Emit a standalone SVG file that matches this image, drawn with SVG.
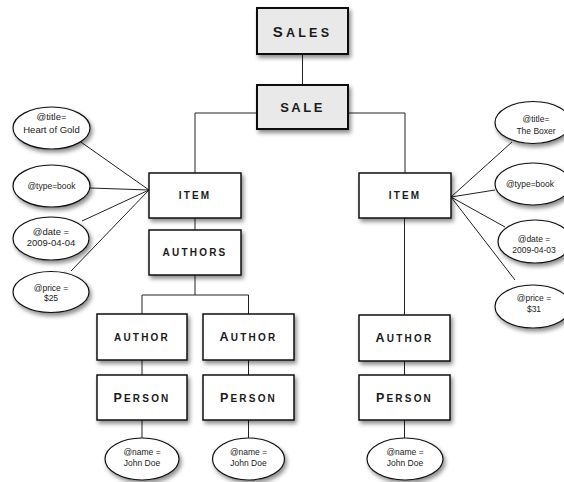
<svg xmlns="http://www.w3.org/2000/svg" width="564" height="482" viewBox="0 0 564 482">
<defs>
<filter id="sh" x="-20%" y="-20%" width="150%" height="160%">
<feDropShadow dx="2" dy="3" stdDeviation="2" flood-color="#000" flood-opacity="0.45"/>
</filter>
<style>
.box{fill:#fff;stroke:#111;stroke-width:1.5;filter:url(#sh)}
.gbox{fill:#e9e9e9;stroke:#111;stroke-width:2;filter:url(#sh)}
.ell{fill:#fff;stroke:#111;stroke-width:1.2;filter:url(#sh)}
.lbl{font-family:"Liberation Sans",Arial,sans-serif;font-weight:bold;font-size:10px;letter-spacing:2.2px;fill:#1a1a1a;text-anchor:middle}
.big{font-size:12.5px}
.at{font-family:"Liberation Sans",Arial,sans-serif;font-size:8.5px;fill:#222;text-anchor:middle}
.at2{font-size:9.5px}
.con{stroke:#222;stroke-width:1;fill:none}
</style>
</defs>
<g id="connectors">
<line class="con" x1="302.5" y1="54" x2="302.5" y2="85"/>
<polyline class="con" points="257,113 195,113 195,173"/>
<polyline class="con" points="348,113 405,113 405,173"/>
<line class="con" x1="195" y1="218" x2="195" y2="230"/>
<line class="con" x1="195" y1="275" x2="195" y2="295"/>
<polyline class="con" points="142,314 142,295 248.5,295 248.5,314"/>
<line class="con" x1="142" y1="360" x2="142" y2="375"/>
<line class="con" x1="248.5" y1="360" x2="248.5" y2="375"/>
<line class="con" x1="142" y1="420" x2="142" y2="438"/>
<line class="con" x1="248.5" y1="420" x2="248.5" y2="438"/>
<line class="con" x1="404.5" y1="218" x2="404.5" y2="315"/>
<line class="con" x1="404.5" y1="361" x2="404.5" y2="375"/>
<line class="con" x1="404.5" y1="420" x2="404.5" y2="438"/>
<line class="con" x1="78" y1="140" x2="149" y2="190"/>
<line class="con" x1="90" y1="188" x2="149" y2="190"/>
<line class="con" x1="82" y1="221" x2="149" y2="190"/>
<line class="con" x1="71" y1="271" x2="149" y2="190"/>
<line class="con" x1="512" y1="142" x2="451" y2="197"/>
<line class="con" x1="495" y1="190" x2="451" y2="197"/>
<line class="con" x1="505" y1="227" x2="451" y2="197"/>
<line class="con" x1="515" y1="280" x2="451" y2="197"/>
</g>
<g id="sales"><rect class="gbox" x="257" y="8" width="91" height="46"/><text class="lbl" x="302.5" y="36.5" style="letter-spacing:3.2px"><tspan style="font-size:15px">S</tspan><tspan style="font-size:12.5px">ALES</tspan></text></g>
<g id="sale"><rect class="gbox" x="257" y="85" width="91" height="44"/><text class="lbl" x="302.5" y="112" style="font-size:13px;letter-spacing:2.5px">SALE</text></g>
<g id="item1"><rect class="box" x="149" y="173" width="92" height="45"/><text class="lbl" x="195" y="199">ITEM</text></g>
<g id="authors"><rect class="box" x="149" y="230" width="92" height="45"/><text class="lbl" x="195" y="256">AUTHORS</text></g>
<g id="author1"><rect class="box" x="97" y="314" width="90" height="46"/><text class="lbl" x="142" y="340.5">AUTHOR</text></g>
<g id="author2"><rect class="box" x="203" y="314" width="91" height="46"/><text class="lbl" x="248.5" y="340.5"><tspan class="big">A</tspan>UTHOR</text></g>
<g id="person1"><rect class="box" x="97" y="375" width="90" height="45"/><text class="lbl" x="142" y="401.5"><tspan class="big">P</tspan>ERSON</text></g>
<g id="person2"><rect class="box" x="203" y="375" width="91" height="45"/><text class="lbl" x="248.5" y="401.5"><tspan class="big">P</tspan>ERSON</text></g>
<g id="name1"><ellipse class="ell" cx="142" cy="459" rx="37" ry="21"/><text class="at" x="142" y="455">@name =</text><text class="at" x="142" y="466">John Doe</text></g>
<g id="name2"><ellipse class="ell" cx="248.5" cy="459" rx="36" ry="21"/><text class="at" x="248.5" y="455">@name =</text><text class="at" x="248.5" y="466">John Doe</text></g>
<g id="item2"><rect class="box" x="359" y="173" width="92" height="45"/><text class="lbl" x="405" y="199">ITEM</text></g>
<g id="author3"><rect class="box" x="359" y="315" width="91" height="46"/><text class="lbl" x="404.5" y="341.5"><tspan class="big">A</tspan>UTHOR</text></g>
<g id="person3"><rect class="box" x="359" y="375" width="91" height="45"/><text class="lbl" x="404.5" y="401.5"><tspan class="big">P</tspan>ERSON</text></g>
<g id="name3"><ellipse class="ell" cx="405" cy="459" rx="38" ry="21"/><text class="at" x="405" y="455">@name =</text><text class="at" x="405" y="466">John Doe</text></g>
<g id="ltitle"><ellipse class="ell" cx="51.5" cy="128" rx="38.5" ry="21"/><text class="at at2" x="51.5" y="119.5">@title=</text><text class="at at2" x="51.5" y="132.5">Heart of Gold</text></g>
<g id="ltype"><ellipse class="ell" cx="51.5" cy="186" rx="38.5" ry="21"/><text class="at" x="51.5" y="188.5">@type=book</text></g>
<g id="ldate"><ellipse class="ell" cx="51" cy="238.5" rx="38" ry="21.5"/><text class="at at2" x="51" y="234.5">@date =</text><text class="at at2" x="51" y="245.5">2009-04-04</text></g>
<g id="lprice"><ellipse class="ell" cx="51" cy="292" rx="38" ry="20.5"/><text class="at" x="51" y="291">@price =</text><text class="at" x="51" y="301">$25</text></g>
<g id="rtitle"><ellipse class="ell" cx="533" cy="122.5" rx="38" ry="21"/><text class="at" x="536" y="122">@title=</text><text class="at" x="536" y="133.5">The Boxer</text></g>
<g id="rtype"><ellipse class="ell" cx="533" cy="184" rx="38" ry="21"/><text class="at" x="530" y="187">@type=book</text></g>
<g id="rdate"><ellipse class="ell" cx="535" cy="241.5" rx="37" ry="21.5"/><text class="at" x="534" y="242">@date =</text><text class="at" x="534" y="253">2009-04-03</text></g>
<g id="rprice"><ellipse class="ell" cx="533" cy="306.5" rx="38" ry="21.5"/><text class="at" x="534" y="301">@price =</text><text class="at" x="534" y="311.5">$31</text></g>
</svg>
